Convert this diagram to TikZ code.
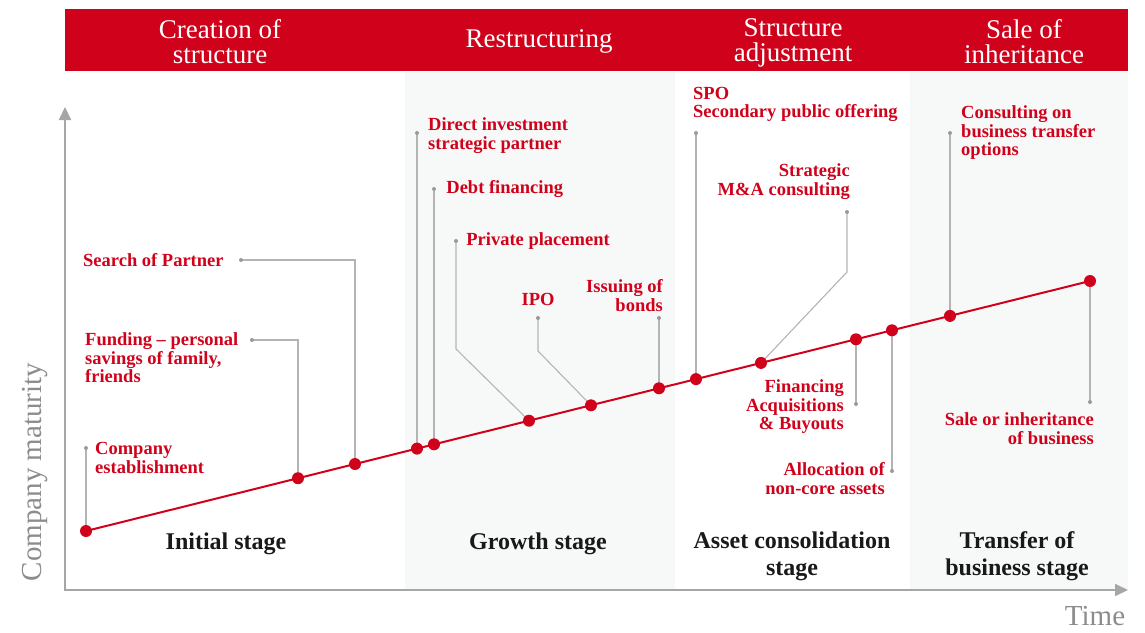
\documentclass[tikz,border=0pt]{standalone}
\usepackage{fontspec}
\setmainfont{Liberation Serif}
\usetikzlibrary{arrows.meta,positioning}
\definecolor{brandred}{HTML}{D0021B}
\definecolor{axisgray}{HTML}{A6A6A6}
\definecolor{leadgray}{HTML}{B4B4B4}
\definecolor{tipgray}{HTML}{9A9A9A}
\definecolor{textgray}{HTML}{8C8C8C}
\definecolor{panelgray}{HTML}{F7F9F9}
\pgfdeclarelayer{back}
\pgfsetlayers{back,main}

\begin{document}
\begin{tikzpicture}[x=1pt, y=-1pt,
  dot/.style={circle, fill=brandred, inner sep=0pt, minimum size=12pt},
  tip/.style={circle, fill=tipgray, inner sep=0pt, minimum size=4pt},
  lead/.style={draw=leadgray, line width=1.1pt},
  trend/.style={draw=brandred, line width=2pt},
  note/.style={text=brandred, inner sep=0pt, font=\fontsize{18.5}{18.5}\selectfont\bfseries},
  stage/.style={text=black!90, inner sep=0pt, align=center, font=\fontsize{24}{27}\selectfont\bfseries},
  phase/.style={text=white, inner sep=0pt, align=center, font=\fontsize{27}{25}\selectfont},
  axislabel/.style={text=textgray, inner sep=0pt, font=\fontsize{29}{29}\selectfont},
  axis/.style={draw=axisgray, line width=2pt, {Triangle[length=13pt,width=12pt]}-{Triangle[length=13pt,width=12pt]}}]
	\useasboundingbox (0,0) rectangle (1145,632);
	\fill[brandred] (65,9) rectangle (1128,71);
    \node (creation) [phase] at (220,42) {Creation of\\structure};
    \node (restructuring) [phase] at (539,41) {Restructuring};
    \node (adjustment) [phase] at (793,43) {Structure\\adjustment};
    \node (inheritance) [phase] at (1024,42) {Sale of\\inheritance};

    \coordinate (yend) at (65,107);
    \coordinate (origin) at (65,590);
    \coordinate (xend) at (1128,590);
    \draw[axis] (yend) -- (origin) -- (xend);
    \node (maturity) [axislabel, rotate=90] at (35,472) {Company maturity};
    \node (time) [axislabel] at (1095,616) {Time};

    \node (establish) [dot] at (86,531) {};
    \node (funding) [dot] at (298,478.2) {};
    \node (partner) [dot] at (355,464) {};
    \node (direct) [dot] at (417,448.6) {};
    \node (debt) [dot] at (434,444.3) {};
    \node (placement) [dot] at (529,420.7) {};
    \node (ipo) [dot] at (591,405.3) {};
    \node (bonds) [dot] at (659,388.3) {};
    \node (spo) [dot] at (696,379.1) {};
    \node (mna) [dot] at (761,362.9) {};
    \node (financing) [dot] at (856,339.3) {};
    \node (noncore) [dot] at (892,330.3) {};
    \node (consult) [dot] at (950,315.9) {};
    \node (sale) [dot] at (1090,281) {};

    \node (establishTip) [tip] at (86,448) {};
    \node (fundingTip) [tip] at (252,340) {};
    \node (partnerTip) [tip] at (241,260) {};
    \node (directTip) [tip] at (417,133) {};
    \node (debtTip) [tip] at (434,189) {};
    \node (placementTip) [tip] at (456,241) {};
    \node (ipoTip) [tip] at (538,318) {};
    \node (bondsTip) [tip] at (659,318) {};
    \node (spoTip) [tip] at (696,133) {};
    \node (mnaTip) [tip] at (847,212) {};
    \node (financingTip) [tip] at (856,404) {};
    \node (noncoreTip) [tip] at (892,471) {};
    \node (consultTip) [tip] at (950,133) {};
    \node (saleTip) [tip] at (1090,402) {};

    \coordinate (placementBend) at (456,349);
    \coordinate (ipoBend) at (538,351);
    \coordinate (mnaBend) at (847,272);

    \begin{pgfonlayer}{back}
	\fill[panelgray] (405,72) rectangle (675,590);
	\fill[panelgray] (910,72) rectangle (1128,590);
    \draw[lead] (establish.center) -- (establishTip.center);
    \draw[lead] (funding.center) |- (fundingTip.center);
    \draw[lead] (partner.center) |- (partnerTip.center);
    \draw[lead] (direct.center) -- (directTip.center);
    \draw[lead] (debt.center) -- (debtTip.center);
    \draw[lead] (placement.center) -- (placementBend) -- (placementTip.center);
    \draw[lead] (ipo.center) -- (ipoBend) -- (ipoTip.center);
    \draw[lead] (bonds.center) -- (bondsTip.center);
    \draw[lead] (spo.center) -- (spoTip.center);
    \draw[lead] (mna.center) -- (mnaBend) -- (mnaTip.center);
    \draw[lead] (financing.center) -- (financingTip.center);
    \draw[lead] (noncore.center) -- (noncoreTip.center);
    \draw[lead] (consult.center) -- (consultTip.center);
    \draw[lead] (sale.center) -- (saleTip.center);
    \draw[trend] (establish.center) -- (sale.center);
    \end{pgfonlayer}

    \node (establishText) [note, align=left, anchor=west] at (95,458) {Company\\establishment};
    \node (fundingText) [note, align=left, anchor=west] at (85,358) {Funding – personal\\savings of family,\\friends};
    \node (partnerText) [note, left=15pt of partnerTip] {Search of Partner};
    \node (directText) [note, align=left, anchor=west] at (428,135.5) {Direct investment\\strategic partner};
    \node (debtText) [note, right=10pt of debtTip] {Debt financing};
    \node (placementText) [note, right=8pt of placementTip] {Private placement};
    \node (ipoText) [note, above=10pt of ipoTip] {IPO};
    \node (bondsText) [note, align=right, anchor=east] at (663,295.5) {Issuing of\\bonds};
    \node (spoText) [note, align=left, anchor=west] at (693,104.5) {SPO\\Secondary public offering};
    \node (mnaText) [note, align=right, anchor=east] at (850,181.5) {Strategic\\M\&A consulting};
    \node (financingText) [note, align=right, anchor=east] at (844,407) {Financing\\Acquisitions\\\& Buyouts};
    \node (noncoreText) [note, align=right, anchor=east] at (885,478.5) {Allocation of\\non-core assets};
    \node (consultText) [note, align=left, anchor=west] at (961,133) {Consulting on\\business transfer\\options};
    \node (saleText) [note, align=right, anchor=east] at (1094,428.5) {Sale or inheritance\\of business};

    \node (initial) [stage] at (226,544) {Initial stage};
    \node (growth) [stage] at (538,544) {Growth stage};
    \node (consolidation) [stage] at (792,556) {Asset consolidation\\stage};
    \node (transfer) [stage] at (1017,556) {Transfer of\\business stage};
\end{tikzpicture}
\end{document}
